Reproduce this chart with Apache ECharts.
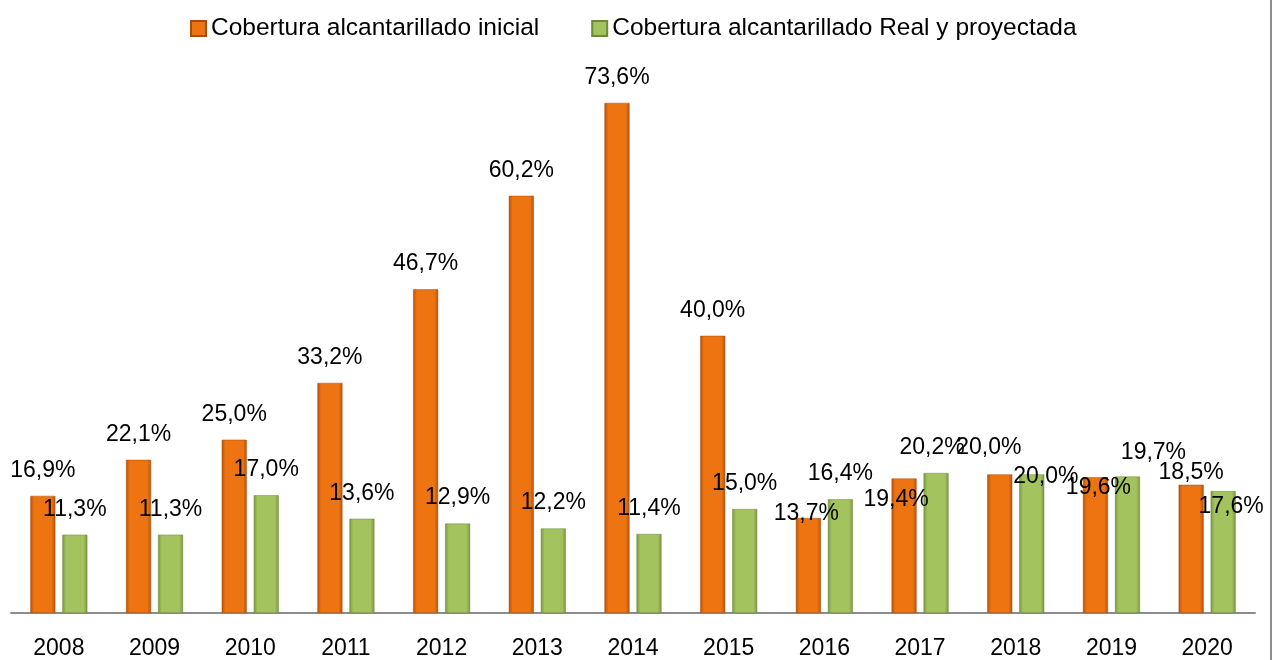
<!DOCTYPE html>
<html>
<head>
<meta charset="utf-8">
<script src="https://cdn.jsdelivr.net/npm/echarts@6/dist/echarts.min.js"></script>
<style>html,body{margin:0;padding:0;background:#fff}#c{width:1279px;height:660px}</style>
</head>
<body>
<div id="c"></div>
<script>
const years = ['2008','2009','2010','2011','2012','2013','2014','2015','2016','2017','2018','2019','2020'];
const inicial = [16.9,22.1,25.0,33.2,46.7,60.2,73.6,40.0,13.7,19.4,20.0,19.6,18.5];
const real = [11.3,11.3,17.0,13.6,12.9,12.2,11.4,15.0,16.4,20.2,20.0,19.7,17.6];
const seriesNames = ['Cobertura alcantarillado inicial','Cobertura alcantarillado Real y proyectada'];

// label nudges (style only)
const offInicial = {8:[-2,21],9:[-8,47],10:[-11,-1],11:[3,36],12:[0,13]};
const offReal = {9:[-4,0],10:[14,28],11:[26,2],12:[8,41]};

const FONT = 'Liberation Sans';
function grad(edge, mid){
  return {type:'linear',x:0,y:0,x2:1,y2:0,colorStops:[
    {offset:0,color:edge},{offset:0.15,color:mid},{offset:0.85,color:mid},{offset:1,color:edge}]};
}
function build(vals, offs){
  return vals.map((v,i)=>{
    const o = {value:v};
    if(offs[i]) o.label = {offset:offs[i]};
    return o;
  });
}
const fmt = p => p.value.toFixed(1).replace('.',',') + '%';
const chart = echarts.init(document.getElementById('c'));
chart.setOption({
  animation:false,
  textStyle:{fontFamily:FONT},
  legend:{top:11,left:185,itemWidth:15,itemHeight:15,itemGap:52,
    textStyle:{fontSize:24.5,color:'#000',fontFamily:FONT},
    icon:'rect'},
  grid:{left:11,right:24,top:58.6,bottom:47},
  xAxis:{type:'category',data:years,
    axisLine:{lineStyle:{color:'#8c8c8c',width:2}},axisTick:{show:false},
    axisLabel:{fontSize:23,color:'#000',margin:24,fontFamily:FONT}},
  yAxis:{type:'value',min:0,max:80,show:false,splitLine:{show:false}},
  series:[
    {name:seriesNames[0],type:'bar',barWidth:25,barGap:'28%',
     data:build(inicial,offInicial),
     itemStyle:{color:grad('#B5520A','#EE7412'),borderColor:'#A84C0C',borderWidth:0.5},
     label:{show:true,position:'top',distance:14,fontSize:23,color:'#000',fontFamily:FONT,formatter:fmt}},
    {name:seriesNames[1],type:'bar',barWidth:25,
     data:build(real,offReal),
     itemStyle:{color:grad('#7A9640','#A2C35E'),borderColor:'#6F8A3A',borderWidth:0.5},
     label:{show:true,position:'top',distance:14,fontSize:23,color:'#000',fontFamily:FONT,formatter:fmt}}
  ],
  color:['#EE7412','#A2C35E'],
  graphic:[{type:'line',shape:{x1:1271,y1:0,x2:1271,y2:660},style:{stroke:'#8c8c8c',lineWidth:2}}]
});
</script>
</body>
</html>
